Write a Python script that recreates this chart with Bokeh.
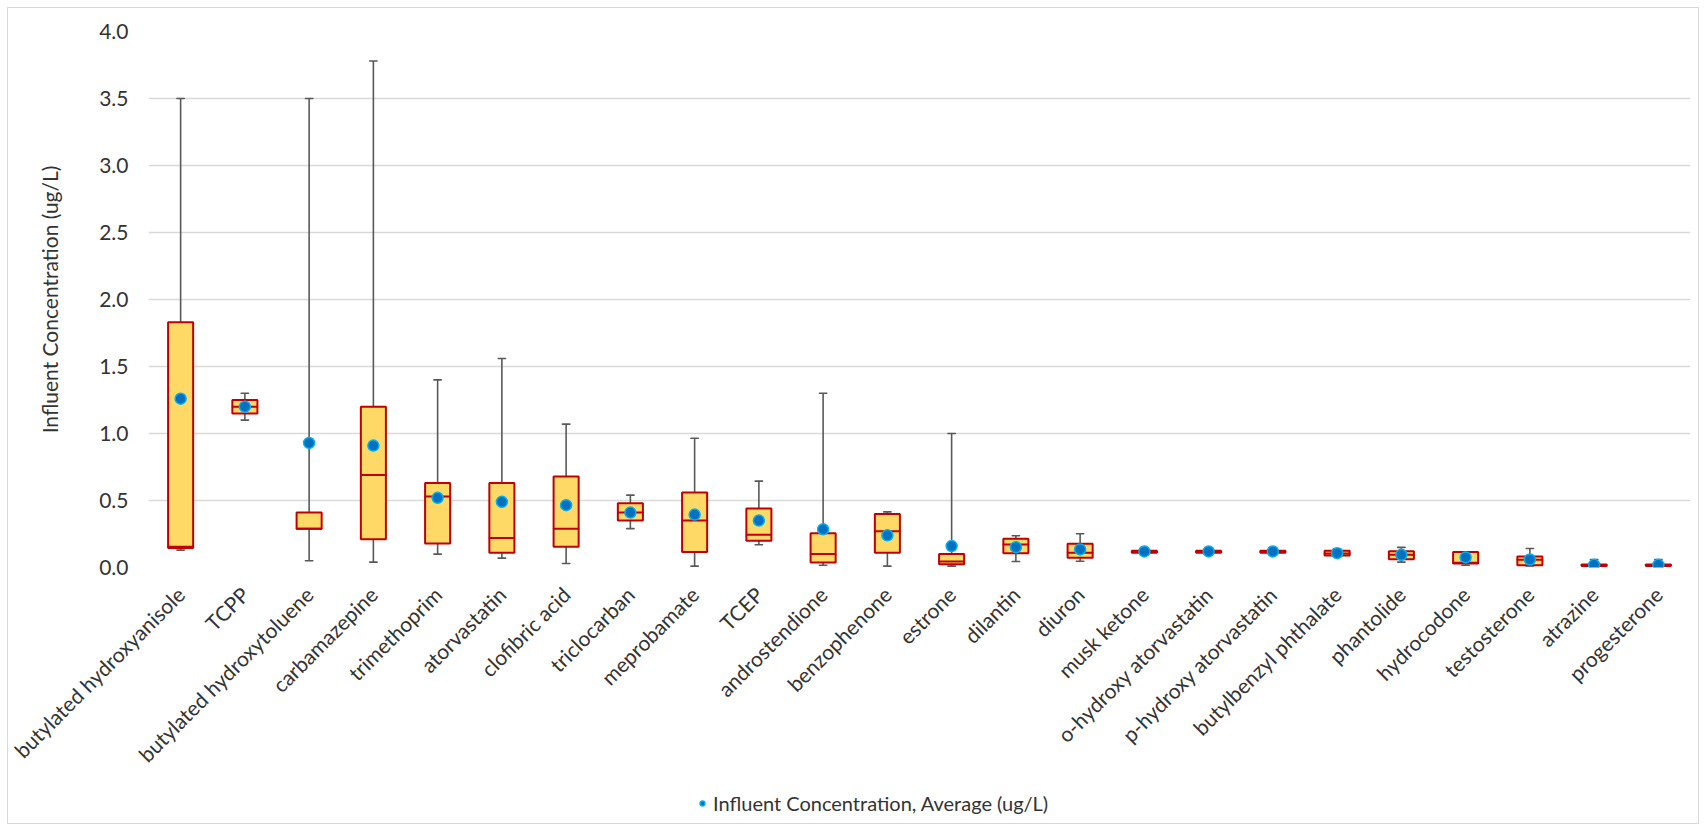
import math
from bokeh.plotting import figure
from bokeh.layouts import column
from bokeh.models import (ColumnDataSource, FixedTicker, NumeralTickFormatter, Legend, LegendItem, Range1d)
from bokeh.embed import file_html
from bokeh.resources import INLINE

categories = ["butylated hydroxyanisole", "TCPP", "butylated hydroxytoluene", "carbamazepine",
              "trimethoprim", "atorvastatin", "clofibric acid", "triclocarban", "meprobamate",
              "TCEP", "androstendione", "benzophenone", "estrone", "dilantin", "diuron",
              "musk ketone", "o-hydroxy atorvastatin", "p-hydroxy atorvastatin",
              "butylbenzyl phthalate", "phantolide", "hydrocodone", "testosterone",
              "atrazine", "progesterone"]
minimum = [0.13, 1.10, 0.05, 0.04, 0.10, 0.07, 0.03, 0.29, 0.01, 0.17, 0.017, 0.01, 0.01,
           0.045, 0.047, 0.11, 0.11, 0.11, 0.09, 0.04, 0.017, 0.012, 0.01, 0.01]
q1 = [0.145, 1.15, 0.29, 0.21, 0.18, 0.11, 0.155, 0.35, 0.115, 0.20, 0.037, 0.11, 0.025,
      0.107, 0.072, 0.11, 0.11, 0.11, 0.09, 0.062, 0.03, 0.017, 0.012, 0.012]
median = [0.155, 1.20, 0.29, 0.69, 0.53, 0.22, 0.29, 0.41, 0.35, 0.245, 0.10, 0.27, 0.045,
          0.172, 0.11, 0.118, 0.118, 0.118, 0.105, 0.095, 0.035, 0.057, 0.017, 0.017]
q3 = [1.83, 1.25, 0.41, 1.20, 0.63, 0.63, 0.68, 0.48, 0.56, 0.44, 0.255, 0.40, 0.10,
      0.214, 0.177, 0.125, 0.125, 0.125, 0.125, 0.122, 0.115, 0.082, 0.022, 0.022]
maximum = [3.50, 1.30, 3.50, 3.78, 1.40, 1.56, 1.07, 0.54, 0.965, 0.645, 1.30, 0.415, 1.00,
           0.237, 0.252, 0.13, 0.13, 0.13, 0.14, 0.15, 0.115, 0.142, 0.06, 0.06]
mean = [1.26, 1.20, 0.93, 0.91, 0.52, 0.49, 0.465, 0.41, 0.395, 0.35, 0.285, 0.24, 0.16,
        0.152, 0.135, 0.12, 0.12, 0.12, 0.107, 0.095, 0.075, 0.06, 0.02, 0.02]
y_ticks = [0.0, 0.5, 1.0, 1.5, 2.0, 2.5, 3.0, 3.5, 4.0]
legend_text = "Influent Concentration, Average (ug/L)"
y_title = "Influent Concentration (ug/L)"

src = ColumnDataSource(dict(cat=categories, lo=minimum, q1=q1, med=median, q3=q3, hi=maximum, mean=mean))

FONT = "Lato"
TXT = "#333333"
FS = "21px"
MEAN_STYLE = dict(size=11, fill_color="#0070C0", line_color="#00B0F0", line_width=1.5)

p = figure(x_range=categories, y_range=Range1d(0, 4.0), width=1690, height=776,
           frame_height=536,
           output_backend="svg", toolbar_location=None,
           min_border_left=140, min_border_right=8, min_border_top=23, min_border_bottom=0)
p.outline_line_color = None
p.xgrid.grid_line_color = None
p.ygrid.grid_line_color = "#D9D9D9"
p.ygrid.grid_line_width = 1.5

# whiskers
p.segment(x0="cat", y0="lo", x1="cat", y1="hi", source=src, line_color="#595959", line_width=1.6)
p.rect(x="cat", y="lo", width=0.12, height=0.0001, source=src, line_color="#595959", line_width=1.6)
p.rect(x="cat", y="hi", width=0.12, height=0.0001, source=src, line_color="#595959", line_width=1.6)
# boxes
p.vbar(x="cat", bottom="q1", top="q3", width=0.39, source=src,
       fill_color="#FFD966", line_color="#C00000", line_width=2)
p.rect(x="cat", y="med", width=0.39, height=0.0001, source=src, line_color="#C00000", line_width=2)
# means
p.scatter(x="cat", y="mean", source=src, **MEAN_STYLE)

p.yaxis.ticker = FixedTicker(ticks=y_ticks)
p.yaxis.formatter = NumeralTickFormatter(format="0.0")
p.yaxis.axis_line_color = None
p.yaxis.major_tick_line_color = None
p.yaxis.minor_tick_line_color = None
p.yaxis.major_label_standoff = 14
p.yaxis.major_label_text_font = FONT
p.yaxis.major_label_text_font_size = FS
p.yaxis.major_label_text_color = TXT
p.yaxis.axis_label = y_title
p.yaxis.axis_label_text_font = FONT
p.yaxis.axis_label_text_font_style = "normal"
p.yaxis.axis_label_text_font_size = FS
p.yaxis.axis_label_text_color = TXT
p.yaxis.axis_label_standoff = 34

p.xaxis.axis_line_color = None
p.xaxis.major_tick_line_color = None
p.xaxis.major_label_orientation = math.pi / 4
p.xaxis.major_label_standoff = 17
p.xaxis.major_label_text_font = FONT
p.xaxis.major_label_text_font_size = FS
p.xaxis.major_label_text_color = TXT

# legend strip
lg = figure(width=1690, height=45, x_range=Range1d(0, 1), y_range=Range1d(0, 1),
            x_axis_type=None, y_axis_type=None, output_backend="svg", toolbar_location=None,
            min_border_left=0, min_border_right=0, min_border_top=0, min_border_bottom=0)
lg.outline_line_color = None
lg.xgrid.grid_line_color = None
lg.ygrid.grid_line_color = None
leg_src = ColumnDataSource(dict(x=[-10], y=[-10]))
r_leg = lg.scatter(x="x", y="y", source=leg_src, **MEAN_STYLE)
legend = Legend(items=[LegendItem(label=legend_text, renderers=[r_leg])],
                location=(548, 8), orientation="horizontal",
                label_text_font=FONT, label_text_font_size="20px", label_text_color=TXT,
                border_line_color=None, background_fill_alpha=0,
                glyph_width=12, glyph_height=20, label_standoff=5, margin=0, padding=0)
lg.add_layout(legend, "center")

layout = column(p, lg, spacing=0,
                styles={"margin-left": "7px", "margin-top": "7px", "border": "1px solid #D9D9D9"})

open("out.html", "w").write(file_html(layout, INLINE))
